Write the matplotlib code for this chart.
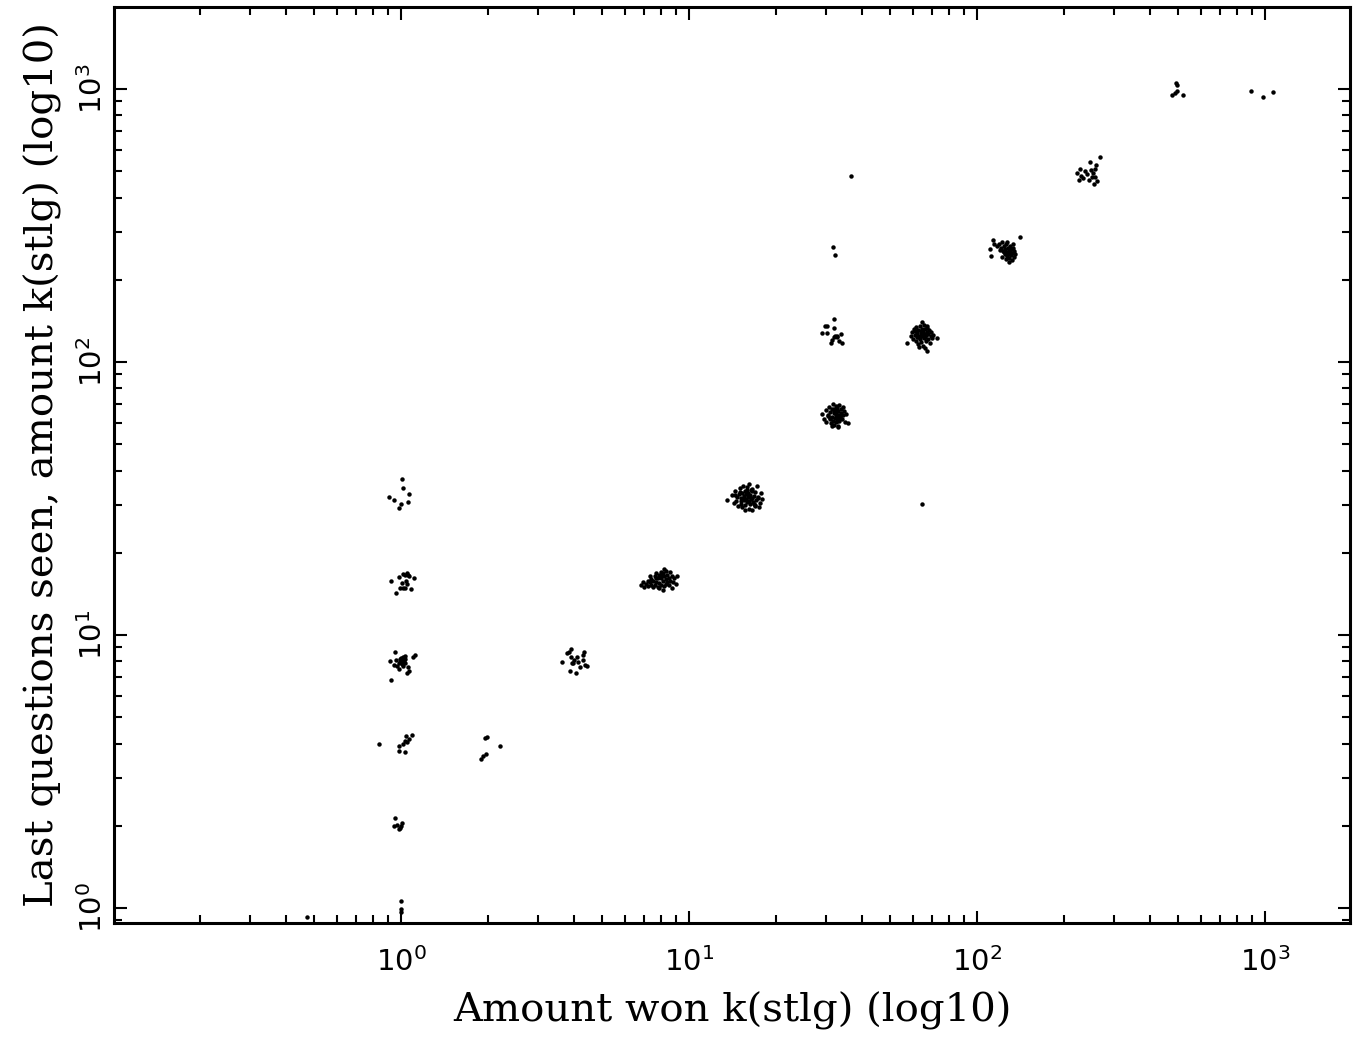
import numpy as np
import matplotlib as mpl
import matplotlib.pyplot as plt
from matplotlib.ticker import LogLocator, NullFormatter

mpl.use('Agg')

# (amount won, last questions seen), one list per cluster
won_1_q_1 = [(0.47, 0.93), (1.0, 1.06), (1.0, 0.99), (1.0, 0.97)]
won_1_q_2 = [(0.951, 2.13), (0.971, 2.01), (0.946, 2.0), (1.008, 2.04),
             (1.002, 1.99), (0.982, 1.95), (0.992, 1.97)]
won_1_q_4 = [(0.841, 4.0), (1.041, 4.27), (1.092, 4.30), (1.064, 4.15), (1.030, 4.10),
             (1.019, 4.0), (0.982, 3.92), (0.987, 3.77), (1.035, 3.73), (1.047, 4.06)]
won_1_q_8 = [(0.953, 8.66), (1.035, 8.38), (1.116, 8.44), (1.103, 8.33), (0.916, 8.01),
             (0.961, 8.10), (0.992, 8.14), (1.014, 8.28), (1.024, 8.10), (0.982, 7.88),
             (1.008, 7.84), (0.946, 7.79), (1.019, 7.67), (0.987, 7.50), (1.057, 7.62),
             (1.068, 7.37), (1.052, 7.25), (0.921, 6.86), (0.971, 7.67), (1.003, 7.97),
             (1.033, 7.88), (1.0, 8.2), (1.02, 8.0), (0.99, 7.95), (1.03, 8.15)]
won_1_q_16 = [(1.047, 16.9), (1.014, 16.7), (1.033, 16.6), (0.984, 16.3), (1.068, 16.4),
              (1.109, 16.2), (0.923, 15.8), (1.008, 15.5), (1.052, 15.4), (0.992, 14.9),
              (1.014, 14.8), (1.030, 14.9), (1.083, 14.7), (0.961, 14.2), (1.060, 16.6),
              (1.041, 15.8)]
won_1_q_32 = [(1.008, 37.2), (1.014, 34.4), (1.066, 32.8), (0.911, 31.9), (0.946, 31.2),
              (1.057, 30.7), (0.997, 30.2), (0.987, 29.1)]
won_2_q_4 = [(1.985, 4.22), (1.957, 4.18), (2.207, 3.92), (1.973, 3.66), (1.921, 3.60),
             (1.891, 3.50)]
won_4_q_8 = [(3.88, 8.88), (3.82, 8.63), (4.31, 8.63), (4.27, 8.46), (3.63, 7.95),
             (3.90, 8.33), (4.09, 8.33), (4.0, 8.10), (3.92, 7.88), (3.96, 7.92),
             (4.12, 7.99), (4.29, 8.10), (4.18, 7.65), (4.36, 7.75), (4.41, 7.70),
             (3.86, 7.40), (4.05, 7.27), (3.78, 8.57)]
won_8_q_16 = [(6.8, 15.2), (7.0, 15.0), (7.1, 15.4), (7.2, 15.1), (7.3, 15.6), (7.4, 15.3),
              (7.4, 16.0), (7.5, 15.0), (7.5, 15.8), (7.6, 16.4), (7.6, 15.2), (7.7, 16.8),
              (7.7, 15.6), (7.8, 16.1), (7.8, 15.0), (7.9, 16.6), (7.9, 15.5), (8.0, 17.0),
              (8.0, 16.2), (8.0, 15.3), (8.1, 16.8), (8.1, 15.8), (8.2, 16.4), (8.2, 15.1),
              (8.3, 17.2), (8.3, 16.0), (8.4, 15.6), (8.4, 16.6), (8.5, 15.3), (8.5, 16.2),
              (8.6, 17.0), (8.6, 15.8), (8.7, 16.5), (8.8, 15.6), (8.9, 16.1), (9.0, 15.4),
              (7.3, 16.5), (7.9, 14.8), (8.2, 17.4), (8.7, 14.9), (7.2, 15.8), (8.0, 16.6),
              (7.7, 16.2), (8.3, 15.4), (8.1, 14.6), (6.9, 15.6), (9.1, 16.4)]
won_16_q_32 = [(13.5, 31.2), (14.1, 32.5), (14.3, 30.4), (14.5, 33.6), (14.6, 31.0),
               (14.8, 29.6), (14.9, 32.8), (15.0, 34.4), (15.1, 30.2), (15.2, 31.8),
               (15.3, 33.0), (15.3, 29.4), (15.4, 35.2), (15.5, 31.4), (15.5, 32.2),
               (15.6, 30.0), (15.7, 33.8), (15.7, 28.8), (15.8, 31.6), (15.9, 34.8),
               (15.9, 30.6), (16.0, 32.0), (16.0, 33.2), (16.1, 29.0), (16.1, 35.6),
               (16.2, 31.0), (16.3, 32.6), (16.3, 30.2), (16.4, 33.9), (16.5, 28.6),
               (16.5, 31.8), (16.6, 34.2), (16.7, 30.8), (16.8, 32.4), (16.9, 29.8),
               (17.0, 33.4), (17.1, 31.2), (17.2, 35.0), (17.4, 32.0), (17.6, 30.4),
               (17.8, 33.0), (18.0, 31.4), (14.7, 31.9), (15.2, 30.9), (15.8, 32.9),
               (16.4, 31.5), (17.0, 29.9), (15.0, 33.3), (16.2, 32.3), (16.8, 30.1),
               (15.5, 31.1), (16.6, 33.6), (17.3, 31.8), (14.4, 32.6), (15.9, 34.0),
               (17.5, 29.5)]
won_32_q_64 = [(29.0, 64.5), (29.5, 62.0), (29.8, 66.8), (30.0, 60.5), (30.3, 64.0),
               (30.6, 68.5), (30.8, 61.8), (31.0, 65.8), (31.2, 59.8), (31.3, 63.0),
               (31.5, 67.5), (31.6, 70.0), (31.7, 61.0), (31.9, 64.8), (32.0, 58.8),
               (32.1, 66.2), (32.2, 62.5), (32.3, 69.0), (32.4, 60.2), (32.5, 65.0),
               (32.6, 63.5), (32.7, 67.8), (32.8, 58.5), (32.9, 61.5), (33.0, 66.0),
               (33.1, 64.2), (33.2, 69.5), (33.3, 60.8), (33.5, 63.0), (33.6, 67.0),
               (33.8, 65.2), (34.0, 61.8), (34.2, 68.2), (34.4, 63.8), (34.6, 66.2),
               (34.9, 60.2), (35.2, 64.5), (35.6, 59.7), (31.0, 62.5), (32.3, 64.0),
               (33.0, 62.0), (31.8, 66.0), (32.6, 61.0), (30.5, 63.2), (33.8, 64.0),
               (32.0, 67.0), (31.4, 58.2), (32.9, 57.6)]
won_32_q_128 = [(32.0, 144), (29.7, 136), (30.1, 135), (31.9, 133), (29.0, 127.7),
                (30.2, 127.7), (33.6, 127), (32.6, 124.3), (32.0, 123.6), (32.7, 123),
                (31.4, 120.2), (31.2, 117.8), (33.2, 119.5), (34.0, 117.8), (32.2, 124.9)]
won_32_q_256 = [(31.7, 264.5), (32.1, 246)]
won_odd = [(64.3, 30.2), (36.5, 480)]
won_64_q_128 = [(64.5, 140.6), (57.0, 117.6), (72.8, 122.1), (66.9, 110.0),
                (59.0, 124.0), (59.5, 128.5), (60.0, 121.0), (60.3, 131.5), (60.8, 126.0),
                (61.2, 119.0), (61.5, 133.8), (61.8, 123.5), (62.0, 128.0), (62.3, 116.5),
                (62.6, 130.5), (62.9, 125.0), (63.2, 135.0), (63.4, 121.0), (63.7, 127.5),
                (64.0, 118.5), (64.2, 132.0), (64.5, 124.0), (64.8, 129.0), (65.0, 114.5),
                (65.3, 136.5), (65.5, 122.0), (65.8, 127.0), (66.0, 131.5), (66.3, 119.5),
                (66.6, 125.5), (66.9, 133.0), (67.2, 128.5), (67.5, 121.5), (67.8, 126.5),
                (68.2, 130.5), (68.6, 117.5), (69.0, 124.5), (69.5, 129.0), (70.0, 122.5),
                (70.6, 126.0), (63.0, 113.5), (65.8, 112.5), (61.0, 129.5), (64.6, 127.0),
                (62.4, 123.0), (66.2, 123.0), (63.8, 130.0), (67.0, 135.5)]
won_128_q_256 = [(141, 288), (114, 280), (115, 271), (111, 260), (111.5, 245),
                 (117, 266), (119, 270), (121, 262), (122, 274), (123, 255), (124, 266),
                 (125, 248), (125.5, 259), (126, 270), (127, 253), (127.5, 244), (128, 262),
                 (128.5, 249), (129, 256), (129.5, 240), (130, 265), (130.5, 252), (131, 246),
                 (131.5, 259), (132, 236), (132.5, 250), (133, 262), (134, 243), (134.5, 255),
                 (135.5, 248), (122, 243), (126, 238), (129, 233), (124, 252), (120, 257),
                 (133, 271), (127, 275)]
won_256_q_512 = [(267, 562), (246.8, 542), (260, 525), (227.9, 509), (223, 494),
                 (236.5, 502), (248, 505), (240.4, 487), (229, 480), (253.4, 494),
                 (257.4, 511), (250, 477), (256.8, 475), (226.6, 464), (244.3, 464),
                 (261.6, 459), (255, 449), (232.7, 471)]
won_512_q_1024 = [(490.6, 1054), (496, 1031), (493.8, 985), (485.8, 969), (475, 952),
                  (520, 947)]
won_1000_q_1000 = [(896.6, 986), (986, 937), (1069, 975)]

clusters = [won_1_q_1, won_1_q_2, won_1_q_4, won_1_q_8, won_1_q_16, won_1_q_32,
            won_2_q_4, won_4_q_8, won_8_q_16, won_16_q_32, won_32_q_64, won_32_q_128,
            won_32_q_256, won_odd, won_64_q_128, won_128_q_256, won_256_q_512,
            won_512_q_1024, won_1000_q_1000]

xlabel = 'Amount won k(stlg) (log10)'
ylabel = 'Last questions seen, amount k(stlg) (log10)'


def plot_scatter():
    fig = plt.figure(figsize=(13.62, 10.46), dpi=100)
    ax = fig.add_axes([0.0837, 0.1176, 0.9074, 0.8757])

    pts = np.array([p for c in clusters for p in c])
    ax.plot(pts[:, 0], pts[:, 1], 'o', color='black', markersize=3.2,
            markeredgewidth=0)

    ax.set_xscale('log')
    ax.set_yscale('log')
    ax.set_xlim(0.1008, 1972)
    ax.set_ylim(0.881, 1996)

    for a in (ax.xaxis, ax.yaxis):
        a.set_major_locator(LogLocator(base=10, numticks=10))
        a.set_minor_locator(LogLocator(base=10, subs=np.arange(2, 10), numticks=10))
        a.set_minor_formatter(NullFormatter())

    ax.tick_params(which='both', direction='in', top=True, right=True,
                   width=1.5, colors='black')
    ax.tick_params(which='major', length=9, labelsize=21)
    ax.tick_params(which='minor', length=6)
    ax.tick_params(axis='x', which='major', pad=17)
    ax.tick_params(axis='y', which='major', pad=4, labelrotation=90)
    for lab in ax.get_yticklabels():
        lab.set_va('center')

    for s in ax.spines.values():
        s.set_linewidth(2.2)

    ax.set_xlabel(xlabel, family='DejaVu Serif', fontsize=29, labelpad=11)
    ax.set_ylabel(ylabel, family='DejaVu Serif', fontsize=29, labelpad=12)

    fig.savefig('out.png', dpi=100)


plot_scatter()
